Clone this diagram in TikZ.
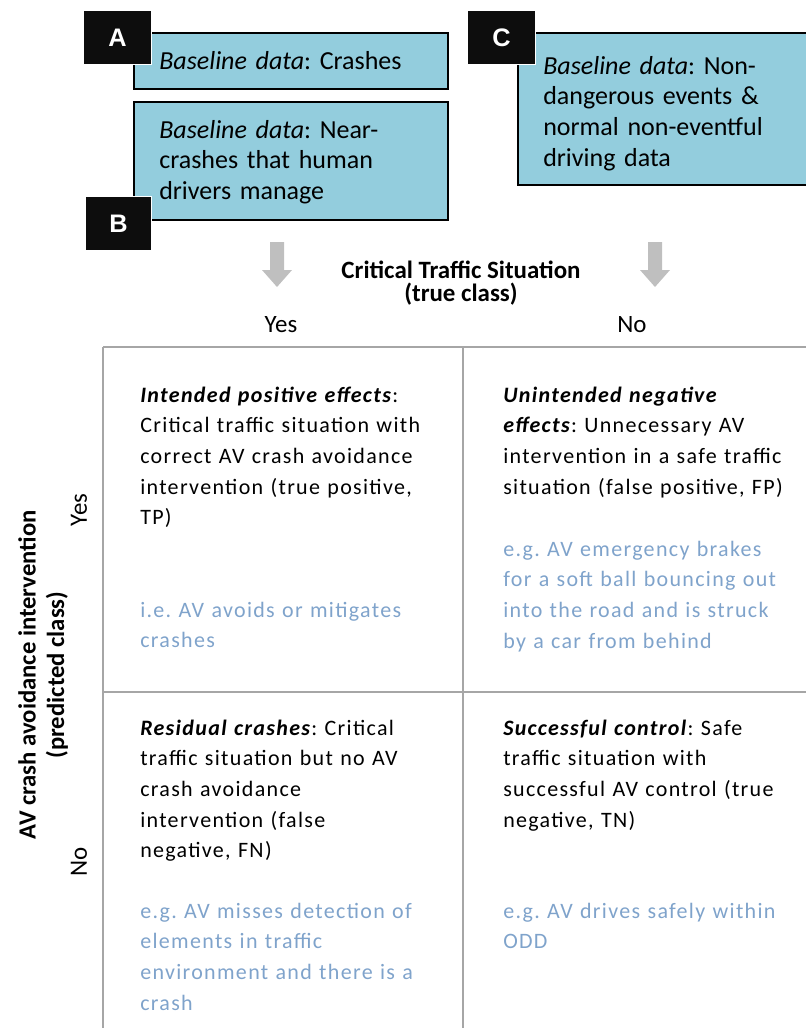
\documentclass[tikz,border=0pt]{standalone}
\usepackage{fontspec}
\setmainfont{Carlito}
\newfontfamily\cellfont[LetterSpace=6]{Carlito}
\newfontfamily\tagfont{Liberation Sans}
\frenchspacing
\definecolor{boxfill}{HTML}{93CDDD}
\definecolor{tagblack}{HTML}{0D0D0D}
\definecolor{gridline}{HTML}{A6A6A6}
\definecolor{note}{HTML}{7FA3CB}
\definecolor{arrowgray}{HTML}{BFBFBF}
\tikzset{
  databox/.style={draw=black, line width=1.5pt, fill=boxfill},
  tag/.style={fill=tagblack, draw=white, line width=0.8pt, text=white,
    font=\tagfont\bfseries\fontsize{19}{19}\selectfont},
  boxtext/.style={anchor=base west, align=left, inner sep=0pt, text width=220pt,
    font=\fontsize{19.5}{23}\selectfont},
  celltext/.style={anchor=base west, align=left, inner sep=0pt, text width=240pt,
    font=\cellfont\fontsize{16.5}{23}\selectfont},
  notetext/.style={celltext, text=note},
  head/.style={anchor=base, inner sep=0pt, font=\fontsize{18.7}{18.7}\selectfont},
  side/.style={rotate=90, inner sep=0pt, font=\fontsize{18.7}{18.7}\selectfont},
  gridln/.style={draw=gridline, line width=1.5pt}
}
\newcommand{\blockarrow}[2]{% x, top y
  \fill[arrowgray] (#1-7,#2) -- (#1+7,#2) -- (#1+7,#2-28) -- (#1+15,#2-28)
    -- (#1,#2-45) -- (#1-15,#2-28) -- (#1-7,#2-28) -- cycle;}

\begin{document}
\begin{tikzpicture}[x=0.75pt, y=0.75pt]
  \useasboundingbox (0,0) rectangle (806,-1028);

  % baseline data boxes
  \draw[databox] (134,-33) rectangle (448,-89);
  \draw[databox] (134,-102) rectangle (448,-220);
  \draw[databox] (518,-33) rectangle (820,-185);
  \node[boxtext] (bA) at (159,-69) {\textit{Baseline data}: Crashes};
  \node[boxtext] (bB) at (159,-138) {\textit{Baseline data}: Near-\\crashes that human\\drivers manage};
  \node[boxtext] (bC) at (543,-74) {\textit{Baseline data}: Non-\\dangerous events \&\\normal non-eventful\\driving data};

  % letter tags
  \node[tag, minimum width=51.5pt, minimum height=41pt] (tA) at (117.5,-37.5) {A};
  \node[tag, minimum width=50pt, minimum height=40pt] (tB) at (118.5,-223.5) {B};
  \node[tag, minimum width=51.5pt, minimum height=41pt] (tC) at (501.5,-37.5) {C};

  % arrows into the true class
  \blockarrow{277}{-242}
  \blockarrow{655}{-242}

  % headings
  \node[head, font=\fontsize{18.7}{18.7}\selectfont\bfseries] (hTrue) at (461,-278) {Critical Traffic Situation};
  \node[head, font=\fontsize{18.7}{18.7}\selectfont\bfseries] (hTrueB) at (461,-301) {(true class)};
  \node[head] (hYes) at (281,-332) {Yes};
  \node[head] (hNo) at (632,-332) {No};
  \node[side, font=\fontsize{18.5}{18.5}\selectfont\bfseries] (hPred) at (27,-675) {AV crash avoidance intervention};
  \node[side, font=\fontsize{18.5}{18.5}\selectfont\bfseries] (hPredB) at (57,-675) {(predicted class)};
  \node[side] (vYes) at (79,-510) {Yes};
  \node[side] (vNo) at (79,-862) {No};

  % matrix grid
  \draw[gridln] (103,-347) -- (806,-347);
  \draw[gridln] (103,-692) -- (806,-692);
  \draw[gridln] (103,-347) -- (103,-1028);
  \draw[gridln] (463,-347) -- (463,-1028);

  % cells
  \node[celltext] (tp) at (140,-402) {\textbf{\textit{Intended positive effects}}:\\Critical traffic situation with\\correct AV crash avoidance\\intervention (true positive,\\TP)};
  \node[notetext] (tpN) at (140,-617) {i.e. AV avoids or mitigates\\crashes};
  \node[celltext] (fp) at (503,-402) {\textbf{\textit{Unintended negative}}\\\textbf{\textit{effects}}: Unnecessary AV\\intervention in a safe traffic\\situation (false positive, FP)};
  \node[notetext] (fpN) at (503,-556) {e.g. AV emergency brakes\\for a soft ball bouncing out\\into the road and is struck\\by a car from behind};
  \node[celltext] (fn) at (140,-735) {\textbf{\textit{Residual crashes}}: Critical\\traffic situation but no AV\\crash avoidance\\intervention (false\\negative, FN)};
  \node[notetext] (fnN) at (140,-918) {e.g. AV misses detection of\\elements in traffic\\environment and there is a\\crash};
  \node[celltext] (tn) at (503,-735) {\textbf{\textit{Successful control}}: Safe\\traffic situation with\\successful AV control (true\\negative, TN)};
  \node[notetext] (tnN) at (503,-918) {e.g. AV drives safely within\\ODD};
\end{tikzpicture}
\end{document}
